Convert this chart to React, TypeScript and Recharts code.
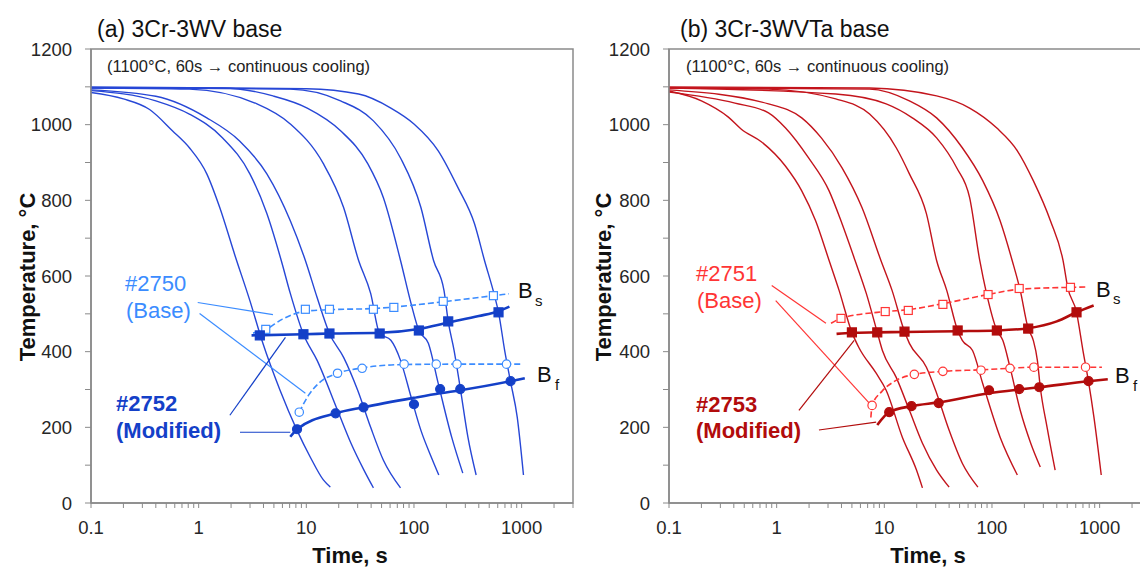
import React from 'react';
import { LineChart, Line, XAxis, YAxis, ReferenceArea, ReferenceLine } from 'recharts';

type Pair = [number, number];

const FONT = '"Liberation Sans", Arial, Helvetica, sans-serif';

// ---------- axes ----------
const X_MAJOR = [0.1, 1, 10, 100, 1000];
const X_MULT = [1, 2, 3, 4, 5, 6, 7, 8, 9];
const X_MAX = 3000;
const Y_TICKS = [0, 100, 200, 300, 400, 500, 600, 700, 800, 900, 1000, 1100, 1200];

// ---------- (a) 3Cr-3WV base : cooling curves [time s, temperature °C] ----------
const A_C1: Pair[] = [[0.1, 1085], [0.2, 1068], [0.35, 1040], [0.57, 984], [0.82, 939], [1.19, 870], [1.57, 781], [2.17, 655], [2.99, 535], [3.95, 422], [5.7, 298], [8.2, 192], [10.9, 121], [14.4, 61], [16.7, 42]];
const A_C2: Pair[] = [[0.1, 1090], [0.4, 1063], [0.82, 1028], [1.67, 965], [2.99, 870], [4.3, 765], [5.85, 641], [7.1, 554], [9.4, 446], [12.6, 377], [19.5, 245], [26, 158], [34.3, 87], [42, 40]];
const A_C3: Pair[] = [[0.1, 1092], [0.4, 1075], [1.19, 1018], [2.4, 957], [4.3, 870], [7.1, 746], [9.8, 641], [12.6, 543], [16.4, 448], [22.2, 385], [30, 298], [39.6, 200], [52, 113], [75, 40]];
const A_C4: Pair[] = [[0.1, 1097], [0.82, 1094], [3.48, 1055], [7.1, 1002], [14.4, 897], [22.2, 781], [30.6, 641], [39.6, 554], [48, 448], [61, 430], [75, 377], [94, 280], [116, 192], [145, 121], [170, 74]];
const A_C5: Pair[] = [[0.1, 1097], [1.67, 1097], [4.9, 1076], [10.2, 1044], [20.8, 984], [37.2, 897], [52, 807], [75, 641], [94, 527], [111, 456], [136, 422], [168, 316], [224, 174], [284, 79]];
const A_C6: Pair[] = [[0.1, 1098], [7.1, 1094], [20.8, 1063], [42, 1010], [75, 912], [116, 781], [152, 641], [190, 562], [208, 480], [236, 403], [270, 301], [317, 174], [378, 74]];
const A_C7: Pair[] = [[0.1, 1100], [10, 1095], [30.6, 1081], [61, 1044], [100, 1002], [168, 931], [257, 833], [365, 738], [452, 641], [560, 548], [610, 504], [696, 403], [787, 322], [910, 227], [1040, 74]];

// Bs / Bf points and trend lines
const A_BS_MOD: Pair[] = [[3.7, 443], [9.4, 446], [16.4, 448], [48, 448], [111, 456], [208, 480], [610, 504]];
const A_BS_MOD_LINE: Pair[] = [[3.1, 443], [9.4, 446], [16.4, 448], [48, 450], [111, 460], [208, 477], [400, 494], [610, 507], [770, 519]];
const A_BS_BASE: Pair[] = [[4.2, 459], [9.8, 512], [16.4, 512], [42, 512], [65, 517], [187, 533], [547, 548]];
const A_BS_BASE_LINE: Pair[] = [[3.2, 449], [4.2, 459], [6, 486], [9.8, 507], [16.4, 511], [42, 514], [65, 518], [187, 532], [547, 548], [760, 553]];
const A_BF_MOD: Pair[] = [[8.2, 195], [18.7, 237], [34, 253], [100, 261], [175, 301], [269, 301], [789, 322]];
const A_BF_MOD_LINE: Pair[] = [[7.1, 175], [8.2, 195], [18.7, 237], [34, 253], [100, 278], [175, 290], [269, 298], [789, 322], [1070, 330]];
const A_BF_BASE: Pair[] = [[8.6, 240], [19.5, 343], [33, 356], [81, 367], [161, 367], [251, 367], [724, 367]];
const A_BF_BASE_LINE: Pair[] = [[8.6, 240], [10.5, 285], [13.5, 320], [19.5, 343], [33, 357], [81, 366], [251, 367], [1000, 367]];
// annotation leader lines
const A_LEAD_BASE: Pair[][] = [[[0.98, 530], [4.9, 498]], [[1.02, 501], [9.8, 290]]];
const A_LEAD_MOD: Pair[][] = [[[1.95, 232], [6.4, 438]], [[2.42, 187], [7.1, 187]]];

// ---------- (b) 3Cr-3WVTa base ----------
const B_C1: Pair[] = [[0.1, 1089], [0.2, 1063], [0.356, 1020], [0.47, 988], [0.72, 955], [1.21, 890], [1.71, 825], [2.3, 746], [3.07, 641], [3.8, 562], [5.0, 451], [5.8, 411], [8.4, 343], [10.4, 298], [14.7, 174], [19.9, 87], [22.6, 40]];
const B_C2: Pair[] = [[0.1, 1086], [0.41, 1057], [0.84, 1031], [1.21, 991], [1.98, 912], [3.07, 825], [4.05, 738], [5.35, 641], [6.8, 554], [8.6, 451], [9.6, 403], [12.9, 332], [17.1, 245], [22.6, 158], [30.6, 87], [40, 42]];
const B_C3: Pair[] = [[0.1, 1092], [0.84, 1055], [1.71, 1018], [2.6, 965], [4.05, 886], [6.2, 781], [9.3, 641], [11.8, 562], [15.4, 453], [17.1, 422], [24.6, 359], [30.6, 290], [40, 192], [53, 105], [74, 42]];
const B_C4: Pair[] = [[0.1, 1097], [0.84, 1094], [3.54, 1068], [7.3, 1028], [12.9, 939], [17.1, 870], [24.6, 765], [30.6, 641], [38, 562], [48, 456], [53, 430], [66, 403], [82, 316], [119, 174], [172, 74]];
const B_C5: Pair[] = [[0.1, 1097], [3.54, 1081], [10.4, 1055], [18.2, 1018], [30.6, 965], [47, 886], [62, 807], [77, 641], [89, 554], [111, 456], [126, 430], [147, 359], [183, 245], [229, 158], [281, 95]];
const B_C6: Pair[] = [[0.1, 1098], [7.3, 1094], [17.1, 1063], [30.6, 1018], [53, 939], [82, 852], [119, 746], [154, 641], [183, 562], [217, 461], [242, 430], [264, 377], [281, 306], [325, 200], [386, 87]];
const B_C7: Pair[] = [[0.1, 1100], [7.3, 1097], [30.6, 1076], [62, 1044], [111, 991], [172, 931], [242, 852], [349, 746], [457, 641], [505, 570], [610, 504], [700, 403], [787, 322], [885, 227], [1035, 74]];

const B_BS_MOD: Pair[] = [[5.0, 451], [8.6, 451], [15.4, 453], [48, 456], [111, 456], [217, 461], [610, 504]];
const B_BS_MOD_LINE: Pair[] = [[3.6, 447], [5, 450], [8.6, 451], [15.4, 452], [48, 454], [111, 456], [217, 462], [400, 480], [610, 504], [880, 522]];
const B_BS_BASE: Pair[] = [[3.96, 488], [10.2, 506], [16.7, 509], [35, 525], [92, 551], [179, 567], [536, 570]];
const B_BS_BASE_LINE: Pair[] = [[3.2, 475], [3.96, 488], [10.2, 506], [16.7, 511], [35, 527], [92, 551], [179, 565], [536, 570], [780, 571]];
const B_BF_MOD: Pair[] = [[11.1, 240], [17.9, 256], [32, 264], [94, 298], [179, 301], [275, 306], [789, 322]];
const B_BF_MOD_LINE: Pair[] = [[8.6, 206], [11.1, 240], [17.9, 256], [32, 266], [94, 290], [179, 300], [275, 306], [789, 322], [1190, 327]];
const B_BF_BASE: Pair[] = [[7.7, 258], [19, 340], [35, 348], [79, 351], [147, 356], [245, 359], [740, 359]];
const B_BF_BASE_LINE: Pair[] = [[7.5, 226], [7.7, 258], [9.5, 295], [12.5, 322], [19, 340], [35, 348], [79, 352], [147, 356], [245, 359], [740, 359], [1050, 359]];
const B_LEAD_BASE: Pair[][] = [[[0.9, 575], [2.87, 475]], [[0.98, 535], [7.25, 264]]];
const B_LEAD_MOD: Pair[][] = [[[1.61, 245], [5.25, 430]], [[2.47, 193], [8.4, 214]]];

// ---------- helpers ----------
const X_TICKS: number[] = [];
X_MAJOR.forEach((d) => X_MULT.forEach((m) => { const v = +(d * m).toPrecision(6); if (v <= X_MAX) X_TICKS.push(v); }));
const isMajor = (v: number) => Math.abs(Math.log10(v) - Math.round(Math.log10(v))) < 1e-6;
const fmtX = (v: number) => (isMajor(v) ? String(v) : '');
const fmtY = (v: number) => (v % 200 === 0 ? String(v) : '');
const toData = (arr: Pair[]) => arr.map(([t, T]) => ({ t, T }));

const squareDot = (size: number, fill: string, stroke: string) => (p: any) => {
  const { cx, cy, index } = p;
  if (cx == null || cy == null) return <g key={`e${index}`} />;
  return <rect key={`r${index}`} x={cx - size / 2} y={cy - size / 2} width={size} height={size} fill={fill} stroke={stroke} strokeWidth={1.2} />;
};
const circleDot = (r: number, fill: string, stroke: string) => (p: any) => {
  const { cx, cy, index } = p;
  if (cx == null || cy == null) return <g key={`e${index}`} />;
  return <circle key={`c${index}`} cx={cx} cy={cy} r={r} fill={fill} stroke={stroke} strokeWidth={1.2} />;
};

const AXIS = '#8a8a8a';
const TICK_STYLE = { fill: '#262626', fontSize: 18.5, fontFamily: FONT };

type PanelProps = {
  curves: Pair[][];
  curveColor: string;
  modColor: string;
  baseColor: string;
  bsMod: Pair[]; bsModLine: Pair[];
  bsBase: Pair[]; bsBaseLine: Pair[];
  bfMod: Pair[]; bfModLine: Pair[];
  bfBase: Pair[]; bfBaseLine: Pair[];
  leadBase: Pair[][]; leadMod: Pair[][];
};

function Panel(p: PanelProps) {
  return (
    <LineChart width={580} height={567} margin={{ top: 49, right: 7, bottom: 0, left: 0 }}>
      <XAxis dataKey="t" type="number" scale="log" domain={[0.1, X_MAX]} allowDataOverflow ticks={X_TICKS} interval={0}
        tickFormatter={fmtX} tickSize={5} tickMargin={13} height={64} tick={TICK_STYLE}
        axisLine={{ stroke: AXIS, strokeWidth: 1.5 }} tickLine={{ stroke: AXIS }} />
      <YAxis type="number" domain={[0, 1200]} allowDataOverflow ticks={Y_TICKS} interval={0} tickFormatter={fmtY}
        width={91} tickSize={6} tickMargin={13} tick={TICK_STYLE}
        axisLine={{ stroke: AXIS, strokeWidth: 1.5 }} tickLine={{ stroke: AXIS }} />
      <ReferenceArea x1={0.1} x2={X_MAX} y1={0} y2={1200} fill="none" fillOpacity={0} stroke={AXIS} strokeWidth={1.5} ifOverflow="visible" />
      {p.curves.map((c, i) => (
        <Line key={`cv${i}`} data={toData(c)} dataKey="T" type="monotone" stroke={p.curveColor} strokeWidth={1.4}
          dot={false} activeDot={false} isAnimationActive={false} />
      ))}
      {p.leadBase.map((s, i) => (
        <ReferenceLine key={`lb${i}`} segment={[{ x: s[0][0], y: s[0][1] }, { x: s[1][0], y: s[1][1] }]} stroke={p.baseColor} strokeWidth={1.2} ifOverflow="visible" />
      ))}
      {p.leadMod.map((s, i) => (
        <ReferenceLine key={`lm${i}`} segment={[{ x: s[0][0], y: s[0][1] }, { x: s[1][0], y: s[1][1] }]} stroke={p.modColor} strokeWidth={1.2} ifOverflow="visible" />
      ))}
      <Line data={toData(p.bsBaseLine)} dataKey="T" type="monotone" stroke={p.baseColor} strokeWidth={1.6} strokeDasharray="6 3" dot={false} activeDot={false} isAnimationActive={false} />
      <Line data={toData(p.bfBaseLine)} dataKey="T" type="monotone" stroke={p.baseColor} strokeWidth={1.6} strokeDasharray="6 3" dot={false} activeDot={false} isAnimationActive={false} />
      <Line data={toData(p.bsModLine)} dataKey="T" type="monotone" stroke={p.modColor} strokeWidth={2.6} dot={false} activeDot={false} isAnimationActive={false} />
      <Line data={toData(p.bfModLine)} dataKey="T" type="monotone" stroke={p.modColor} strokeWidth={2.6} dot={false} activeDot={false} isAnimationActive={false} />
      <Line data={toData(p.bsBase)} dataKey="T" stroke="none" dot={squareDot(8, '#ffffff', p.baseColor)} activeDot={false} isAnimationActive={false} />
      <Line data={toData(p.bfBase)} dataKey="T" stroke="none" dot={circleDot(4.2, '#ffffff', p.baseColor)} activeDot={false} isAnimationActive={false} />
      <Line data={toData(p.bsMod)} dataKey="T" stroke="none" dot={squareDot(9, p.modColor, p.modColor)} activeDot={false} isAnimationActive={false} />
      <Line data={toData(p.bfMod)} dataKey="T" stroke="none" dot={circleDot(4.5, p.modColor, p.modColor)} activeDot={false} isAnimationActive={false} />
    </LineChart>
  );
}

const BLUE_CURVE = '#2747d6';
const BLUE_MOD = '#1440c8';
const BLUE_BASE = '#3b8cff';
const RED_CURVE = '#c3141c';
const RED_MOD = '#b20c0c';
const RED_BASE = '#ff3535';

export default function App() {
  const txt = { fontFamily: FONT } as const;
  return (
    <div style={{ position: 'absolute', left: 0, top: 0, width: 1140, height: 567, overflow: 'hidden', background: '#ffffff' }}>
      <div style={{ position: 'absolute', left: 0, top: 0 }}>
        <Panel curves={[A_C1, A_C2, A_C3, A_C4, A_C5, A_C6, A_C7]} curveColor={BLUE_CURVE} modColor={BLUE_MOD} baseColor={BLUE_BASE}
          bsMod={A_BS_MOD} bsModLine={A_BS_MOD_LINE} bsBase={A_BS_BASE} bsBaseLine={A_BS_BASE_LINE}
          bfMod={A_BF_MOD} bfModLine={A_BF_MOD_LINE} bfBase={A_BF_BASE} bfBaseLine={A_BF_BASE_LINE}
          leadBase={A_LEAD_BASE} leadMod={A_LEAD_MOD} />
      </div>
      <div style={{ position: 'absolute', left: 578, top: 0 }}>
        <Panel curves={[B_C1, B_C2, B_C3, B_C4, B_C5, B_C6, B_C7]} curveColor={RED_CURVE} modColor={RED_MOD} baseColor={RED_BASE}
          bsMod={B_BS_MOD} bsModLine={B_BS_MOD_LINE} bsBase={B_BS_BASE} bsBaseLine={B_BS_BASE_LINE}
          bfMod={B_BF_MOD} bfModLine={B_BF_MOD_LINE} bfBase={B_BF_BASE} bfBaseLine={B_BF_BASE_LINE}
          leadBase={B_LEAD_BASE} leadMod={B_LEAD_MOD} />
      </div>
      <svg width={1140} height={567} style={{ position: 'absolute', left: 0, top: 0, pointerEvents: 'none' }}>
        {/* panel (a) */}
        <text x={97} y={37} fontSize={23} fill="#111" style={txt}>(a) 3Cr-3WV base</text>
        <text x={107} y={72} fontSize={16.5} fill="#222" style={txt}>(1100°C, 60s → continuous cooling)</text>
        <text x={125} y={291} fontSize={22} fill={BLUE_BASE} style={txt}>#2750</text>
        <text x={126} y={318} fontSize={22} fill={BLUE_BASE} style={txt}>(Base)</text>
        <text x={116} y={411} fontSize={22} fontWeight="bold" fill={BLUE_MOD} style={txt}>#2752</text>
        <text x={116} y={438} fontSize={22} fontWeight="bold" fill={BLUE_MOD} style={txt}>(Modified)</text>
        <text x={518} y={298} fontSize={22} fill="#111" style={txt}>B</text>
        <text x={535} y={306} fontSize={15} fill="#111" style={txt}>s</text>
        <text x={537} y={382} fontSize={22} fill="#111" style={txt}>B</text>
        <text x={555} y={390} fontSize={15} fill="#111" style={txt}>f</text>
        <text x={35} y={277} fontSize={22} fontWeight="bold" fill="#111" textAnchor="middle" transform="rotate(-90 35 277)" style={txt}>Temperature, °C</text>
        <text x={350} y={563} fontSize={22} fontWeight="bold" fill="#111" textAnchor="middle" style={txt}>Time, s</text>
        {/* panel (b) */}
        <text x={680} y={37} fontSize={23} fill="#111" style={txt}>(b) 3Cr-3WVTa base</text>
        <text x={686} y={72} fontSize={16.5} fill="#222" style={txt}>(1100°C, 60s → continuous cooling)</text>
        <text x={696} y={281} fontSize={22} fill={RED_BASE} style={txt}>#2751</text>
        <text x={697} y={308} fontSize={22} fill={RED_BASE} style={txt}>(Base)</text>
        <text x={696} y={412} fontSize={22} fontWeight="bold" fill={RED_MOD} style={txt}>#2753</text>
        <text x={696} y={438} fontSize={22} fontWeight="bold" fill={RED_MOD} style={txt}>(Modified)</text>
        <text x={1096} y={297} fontSize={22} fill="#111" style={txt}>B</text>
        <text x={1113} y={304} fontSize={15} fill="#111" style={txt}>s</text>
        <text x={1115} y={383} fontSize={22} fill="#111" style={txt}>B</text>
        <text x={1133} y={391} fontSize={15} fill="#111" style={txt}>f</text>
        <text x={611} y={277} fontSize={22} fontWeight="bold" fill="#111" textAnchor="middle" transform="rotate(-90 611 277)" style={txt}>Temperature, °C</text>
        <text x={928} y={563} fontSize={22} fontWeight="bold" fill="#111" textAnchor="middle" style={txt}>Time, s</text>
      </svg>
    </div>
  );
}
